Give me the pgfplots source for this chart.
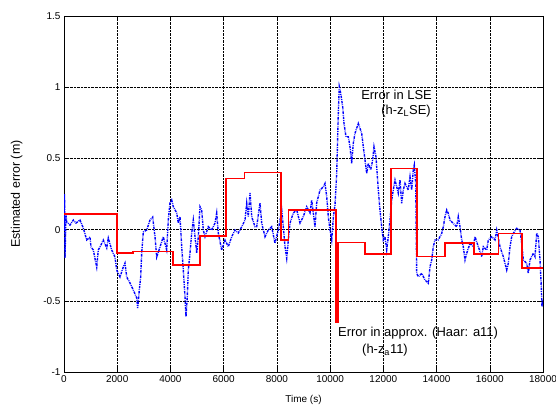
\documentclass[border=0pt]{standalone}
\usepackage{pgfplots}
\pgfplotsset{compat=1.18}
\usepackage{fontspec}
\setmainfont{Liberation Sans}
\definecolor{mred}{RGB}{255,0,0}
\definecolor{mblue}{RGB}{0,0,255}
\begin{document}
\begin{tikzpicture}
\begin{axis}[
  scale only axis,
  width=479bp, height=356bp,
  xmin=0, xmax=18000, ymin=-1, ymax=1.5,
  xtick={0,2000,...,18000},
  ytick={-1,-0.5,0,0.5,1,1.5},
  yticklabels={-1,-0.5,0,0.5,1,1.5},
  scaled x ticks=false,
  /pgf/number format/.cd, set thousands separator={}, assume math mode=true,
  /pgfplots/.cd,
  tick label style={font=\fontsize{10}{12}\selectfont},
  label style={font=\fontsize{10}{12}\selectfont},
  xlabel={Time (s)},
  xlabel style={yshift=-6bp},
  ylabel={Estimated error (m)},
  ylabel style={yshift=14bp, font=\fontsize{12.5}{14}\selectfont},
  grid=major,
  grid style={densely dotted, black, line width=0.5pt},
  major tick length=4bp,
  tick align=inside,
  tick style={black, line width=0.5pt},
  axis line style={black, line width=0.8pt},
  clip=true,
]
\addplot[mblue, line width=1.4pt, dash pattern=on 2.5pt off 1pt on 0.8pt off 1pt] coordinates {
(0,-0.003) (19,0.25) (38,-0.20) (75,0.10) (101,0.053) (225,0.032) (350,0.067) (451,0.046) (601,0.067) (725,0.011)
(853,-0.073) (977,-0.052) (1015,-0.122) (1101,-0.143) (1229,-0.263) (1289,-0.143) (1353,-0.122) (1477,-0.073)
(1605,-0.129) (1665,-0.059) (1792,-0.143) (1916,-0.193) (1980,-0.284) (2104,-0.333) (2228,-0.263) (2292,-0.235)
(2356,-0.333) (2480,-0.375) (2604,-0.424) (2732,-0.480) (2769,-0.551) (2830,-0.424) (2882,-0.333) (2920,-0.164)
(2980,-0.017) (3108,-0.003) (3232,0.067) (3333,0.088) (3420,-0.052) (3484,-0.193) (3608,-0.122)
(3731,-0.050) (3859,-0.143) (3919,0.067) (3983,0.187) (4047,0.208) (4107,0.161) (4235,0.117) (4295,0.046)
(4359,0.091) (4423,-0.120) (4483,-0.284) (4547,-0.471) (4584,-0.612) (4633,-0.471) (4671,-0.284) (4735,-0.164)
(4799,-0.024) (4859,0.067) (4923,-0.050) (4987,-0.164) (5047,-0.050) (5111,0.161) (5174,0.138) (5235,-0.003)
(5299,-0.050) (5423,0.020) (5550,-0.003) (5674,0.046) (5738,0.117) (5798,-0.024) (5926,-0.143) (6050,-0.073)
(6174,-0.120) (6302,-0.050) (6426,-0.003) (6550,-0.024) (6678,0.020) (6802,0.067) (6866,0.187) (6926,0.091)
(6990,0.257) (7054,0.091) (7177,0.020)
(7241,0.020) (7365,0.187) (7429,0.046) (7553,-0.050) (7677,-0.003) (7805,0.020) (7929,-0.096) (8053,-0.003)
(8117,0.067) (8181,0.138) (8241,0.020) (8305,-0.120) (8369,-0.202) (8429,-0.073) (8493,0.046) (8617,0.117)
(8745,0.138) (8869,0.046) (8993,0.091) (9120,0.161) (9244,0.117) (9308,0.208) (9432,0.020) (9496,0.187)
(9620,0.278) (9744,0.301) (9808,0.325) (9872,0.231) (9932,0.091) (9996,-0.003) (10060,-0.073) (10124,0.091)
(10184,0.173) (10248,0.395) (10308,0.817) (10345,1.004) (10398,0.957) (10473,0.863) (10522,0.746) (10597,0.652)
(10684,0.652) (10747,0.582) (10811,0.466) (10871,0.606) (10935,0.676) (11059,0.746) (11187,0.676) (11247,0.582)
(11311,0.489) (11375,0.395) (11435,0.466) (11525,0.419) (11600,0.489) (11649,0.582) (11724,0.512) (11811,0.278)
(11874,0.138) (11938,0.020) (11998,-0.073) (12062,-0.050) (12126,-0.143) (12186,-0.050) (12250,0.067) (12314,0.208)
(12374,0.278) (12438,0.348) (12502,0.301) (12562,0.255) (12626,0.348) (12690,0.185) (12750,0.278) (12814,0.325)
(12938,0.278) (13002,0.371) (13066,0.278) (13126,0.419) (13164,0.454) (13216,0.325) (13254,-0.307) (13314,-0.331)
(13442,-0.307) (13566,-0.354) (13690,-0.377) (13754,-0.261) (13818,-0.213) (13878,-0.120) (13942,-0.073) (14066,-0.073)
(14194,-0.026) (14254,0.020) (14317,0.091) (14381,0.138) (14441,0.114) (14505,0.067) (14629,0.044) (14757,0.020)
(14817,0.091) (14881,0.020) (14945,-0.073) (15005,-0.120) (15069,-0.213) (15133,-0.166) (15257,-0.096) (15381,-0.120)
(15445,-0.050) (15569,-0.120) (15697,-0.190) (15757,-0.120) (15885,-0.143) (15945,-0.073) (16073,-0.050) (16197,-0.073)
(16261,-0.003) (16384,-0.120) (16508,-0.190) (16636,-0.284) (16696,-0.237) (16760,-0.120) (16824,-0.050) (16884,-0.026)
(17012,0.009) (17136,-0.003) (17200,-0.096) (17260,-0.213) (17388,-0.237) (17448,-0.307) (17512,-0.213) (17636,-0.166)
(17699,-0.190) (17763,-0.026) (17823,-0.050) (17887,-0.213) (17925,-0.354) (17962,-0.541) (18000,-0.49)
};
\addplot[mred, line width=1.6pt, line join=miter, const plot] coordinates {
(0,0.11) (2000,-0.165) (2600,-0.155) (4107,-0.25) (5111,-0.043) (6087,0.36) (6776,0.40) (8155,-0.073)
(8430,0.138) (10222,-0.65) (10300,-0.09) (11316,-0.17) (12280,0.43) (13254,-0.19) (14317,-0.096)
(15410,-0.17) (16322,-0.026) (17200,-0.27) (18000,-0.27)
};
\node[anchor=east, font=\fontsize{13}{15}\selectfont, inner sep=0pt] at (axis cs:13829,0.945) {Error in LSE};
\node[anchor=east, font=\fontsize{13}{15}\selectfont, inner sep=0pt] at (axis cs:13790,0.83) {(h-z$_{\mathrm{L}}$SE)};
\node[anchor=west, font=\fontsize{13}{15}\selectfont, inner sep=0pt] at (axis cs:10296,-0.726) {Error in approx. (Haar: a11)};
\node[anchor=west, font=\fontsize{13}{15}\selectfont, inner sep=0pt] at (axis cs:11198,-0.845) {(h-z$_{\mathrm{a}}$11)};
\end{axis}
\pgfresetboundingbox
\path[use as bounding box] ([shift={(-64bp,-35bp)}]current axis.south west) rectangle ([shift={(13bp,16bp)}]current axis.north east);
\end{tikzpicture}
\end{document}
